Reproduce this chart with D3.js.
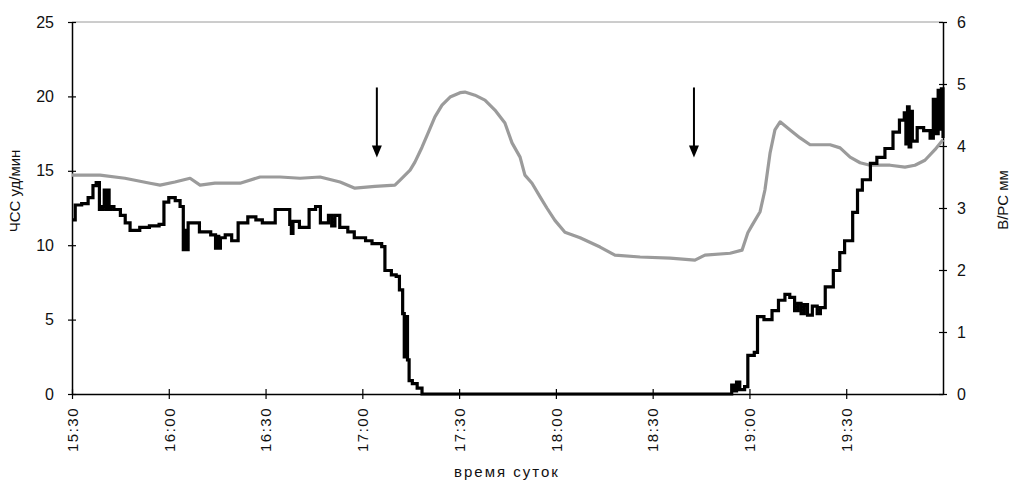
<!DOCTYPE html>
<html>
<head>
<meta charset="utf-8">
<script src="https://cdn.jsdelivr.net/npm/d3@7"></script>
<style>
body{margin:0;background:#fff}
text{font-family:"Liberation Sans",Arial,sans-serif;fill:#111}
</style>
</head>
<body>
<div id="chart"></div>
<script>
var width = 1010, height = 483

// minutes after 15:30
var tickMin = [0,30,60,90,120,150,180,210,240]
var tickLabels = ['15:30','16:00','16:30','17:00','17:30','18:00','18:30','19:00','19:30']
var leftTicks = [0,5,10,15,20,25]
var rightTicks = [0,1,2,3,4,5,6]

// ЧСС, уд/мин (left axis)
var hrMin = [0,1,3,5,6.5,7.5,8.5,9.5,10,10.5,11,11.5,12,13,15,16.5,18,21,24,27,28.5,30,32,33.5,34.5,35,35.5,36,37,39.5,43,44.5,45,45.5,46,47.5,49.5,51.5,54.5,57,59,61.5,63,66,67.5,68,68.5,70.5,73.5,75.5,77,79.5,80.5,81.5,83,85.5,87.5,91,93,96,97,99,100.5,101.5,102.5,103,103.5,104,104.5,105.5,107,108.5,150,204.5,205.5,206,207,208.5,209.5,211.5,212.5,214.5,217,219,221,222.5,224,225,226,227,228,229.5,231,232,233.5,236,238,239.5,242,243.5,245,247.5,249.5,252,254.5,256.5,258,258.5,259,259.5,260,260.5,262,264,266,267,268,268.5,269,269.5,270]
var hrVal = [11.7,12.7,12.8,13.2,14.0,14.2,12.4,12.6,13.7,12.4,13.7,12.4,12.6,12.4,12.0,11.5,11.0,11.2,11.3,11.4,12.9,13.2,13.0,12.6,9.7,11.0,9.7,11.5,11.5,10.9,10.7,9.8,10.6,9.8,10.5,10.7,10.3,11.5,11.9,11.7,11.5,11.5,12.4,12.4,11.4,10.8,11.6,11.2,12.4,12.6,11.5,12.0,11.3,12.0,11.2,10.9,10.5,10.3,10.1,9.9,8.3,8.0,7.9,7.0,5.4,2.5,5.2,2.3,0.9,0.7,0.4,0,0,0.6,0.2,0.8,0.3,0.5,2.6,2.8,5.2,5.0,5.6,6.3,6.7,6.5,5.6,6.1,5.4,6.0,5.3,5.9,5.4,5.8,7.2,8.3,9.5,10.3,12.2,13.7,14.4,15.5,15.9,16.5,17.6,18.4,18.9,16.8,19.3,16.6,19.0,17.0,17.9,17.7,17.2,19.8,17.5,20.4,17.8,20.5,17.2]

// В/РС, мм (right axis)
var vrsMin = [0,8.7,16.4,24.2,27.3,31.9,36.6,39.7,44.3,52.1,58.3,64.5,70.7,76.9,83.1,87.7,93.9,100.1,101.7,104.8,106.3,108.5,110.4,112.5,114.7,117.2,120.3,121.8,124.9,128.0,131.1,134.2,136.4,138.9,140.4,142.6,145.1,147.2,149.7,152.8,157.5,163.7,168.3,176.1,185.4,193.1,196.2,204.0,207.7,209.5,210.8,213.3,214.8,216.4,217.9,219.5,222.6,225.7,228.8,235.0,238.1,241.2,244.3,247.4,253.6,258.2,261.3,264.4,267.5,270]
var vrsVal = [3.53,3.53,3.48,3.40,3.37,3.42,3.48,3.37,3.40,3.40,3.50,3.50,3.48,3.50,3.42,3.32,3.35,3.37,3.45,3.61,3.74,3.98,4.21,4.47,4.66,4.79,4.86,4.87,4.82,4.74,4.58,4.37,4.05,3.82,3.53,3.40,3.18,3.0,2.80,2.61,2.52,2.37,2.24,2.21,2.19,2.16,2.24,2.27,2.32,2.6,2.72,2.94,3.29,3.89,4.26,4.39,4.26,4.13,4.02,4.02,3.97,3.82,3.73,3.69,3.69,3.66,3.69,3.77,3.94,4.10]

// arrows (minute, from / to on left scale)
var arrowMin = [94.5,192.8]
var arrowFrom = 20.6, arrowTo = 15.9

var svg = d3.select('#chart').append('svg')
    .attr('width',width)
    .attr('height',height)

var x = d3.scaleLinear().domain([0,270]).range([72,943])
var yL = d3.scaleLinear().domain([0,25]).range([394,22])
var yR = d3.scaleLinear().domain([0,6]).range([394,22])

// top border
svg.append('line')
  .attr('x1',x(0)).attr('x2',x(270))
  .attr('y1',yL(25)).attr('y2',yL(25))
  .attr('stroke','#9a9a9a').attr('stroke-width',1)

// axes
var axL = svg.append('g')
  .attr('transform',`translate(${x(0)},0)`)
  .call(d3.axisLeft(yL).tickValues(leftTicks).tickSizeOuter(0).tickPadding(12))
var axR = svg.append('g')
  .attr('transform',`translate(${x(270)},0)`)
  .call(d3.axisRight(yR).tickValues(rightTicks).tickFormat(d3.format('d')).tickSizeOuter(0).tickPadding(8))
var axB = svg.append('g')
  .attr('transform',`translate(0,${yL(0)})`)
  .call(d3.axisBottom(x).tickValues(tickMin).tickFormat((d,i)=>tickLabels[i]).tickSizeOuter(0))

;[axL,axR,axB].forEach(g=>{
  g.select('.domain').attr('stroke','#000').attr('stroke-width',1.5)
  g.selectAll('.tick line').attr('stroke','#000').attr('stroke-width',1.2)
  g.selectAll('text').style('font-family','"Liberation Sans",Arial,sans-serif').attr('fill','#111')
})
axL.selectAll('.tick line').attr('x1',4).attr('x2',-4)
axR.selectAll('.tick line').attr('x1',-4).attr('x2',4)
axB.selectAll('.tick line').attr('y1',-5).attr('y2',5)
axL.selectAll('text').style('font-size','16px')
axR.selectAll('text').style('font-size','16px')
axB.selectAll('text')
  .style('font-size','15px')
  .attr('letter-spacing','1.5px')
  .attr('text-anchor','end')
  .attr('transform','rotate(-90)')
  .attr('x',-13).attr('y',0).attr('dy','0.35em')

var vrs = vrsMin.map((m,i)=>[m,vrsVal[i]])
var hr = hrMin.map((m,i)=>[m,hrVal[i]])

svg.append('path')
  .datum(vrs)
  .attr('fill','none')
  .attr('stroke','#9b9b9b')
  .attr('stroke-width',3.2)
  .attr('stroke-linejoin','round')
  .attr('d',d3.line().x(d=>x(d[0])).y(d=>yR(d[1])))

svg.append('path')
  .datum(hr)
  .attr('fill','none')
  .attr('stroke','#000')
  .attr('stroke-width',3.2)
  .attr('d',d3.line().x(d=>x(d[0])).y(d=>yL(d[1])).curve(d3.curveStepAfter))

// titles
svg.append('text')
  .attr('transform','translate(20,191) rotate(-90)')
  .attr('text-anchor','middle')
  .style('font-size','15px')
  .text('ЧСС уд/мин')
svg.append('text')
  .attr('transform','translate(1008,200) rotate(-90)')
  .attr('text-anchor','middle')
  .style('font-size','15px')
  .text('В/РС мм')
svg.append('text')
  .attr('x',507).attr('y',477)
  .attr('text-anchor','middle')
  .attr('letter-spacing','2px')
  .style('font-size','15px')
  .text('время суток')

// arrows
arrowMin.forEach(m=>{
  var ax = x(m), y0 = yL(arrowFrom), y1 = yL(arrowTo)
  svg.append('line')
    .attr('x1',ax).attr('x2',ax)
    .attr('y1',y0).attr('y2',y1-8)
    .attr('stroke','#000').attr('stroke-width',2)
  svg.append('path')
    .attr('d',`M${ax-5},${y1-12}L${ax+5},${y1-12}L${ax},${y1}Z`)
    .attr('fill','#000')
})
</script>
</body>
</html>
